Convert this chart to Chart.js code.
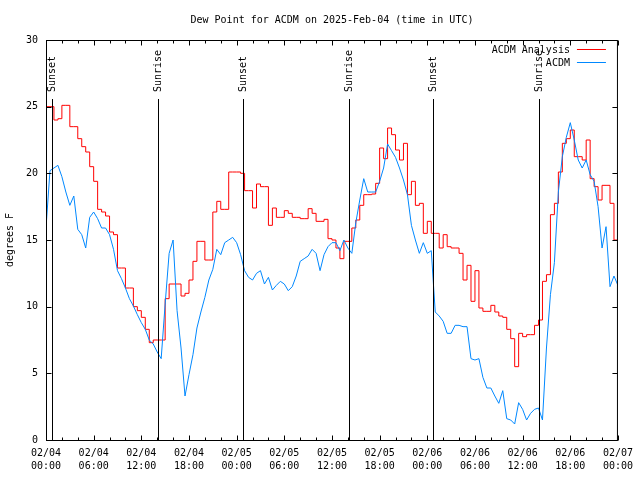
<!DOCTYPE html>
<html>
<head>
<meta charset="utf-8">
<title>Dew Point for ACDM</title>
<script src="https://cdn.jsdelivr.net/npm/chart.js@4.4.1/dist/chart.umd.min.js"></script>
<style>
  html, body { margin: 0; padding: 0; background: #fff; }
  canvas { display: block; }
</style>
</head>
<body>
<canvas id="chart" width="640" height="480"></canvas>
<script>
'use strict';

// hours since 02/04 00:00 UTC, one reading every half hour
var hours = [
  0, 0.5, 1, 1.5, 2, 2.5, 3, 3.5, 4, 4.5, 5, 5.5, 6, 6.5, 7, 7.5, 8, 8.5, 9, 9.5, 10, 10.5, 11, 11.5,
  12, 12.5, 13, 13.5, 14, 14.5, 15, 15.5, 16, 16.5, 17, 17.5, 18, 18.5, 19, 19.5, 20, 20.5, 21, 21.5, 22, 22.5, 23, 23.5,
  24, 24.5, 25, 25.5, 26, 26.5, 27, 27.5, 28, 28.5, 29, 29.5, 30, 30.5, 31, 31.5, 32, 32.5, 33, 33.5, 34, 34.5, 35, 35.5,
  36, 36.5, 37, 37.5, 38, 38.5, 39, 39.5, 40, 40.5, 41, 41.5, 42, 42.5, 43, 43.5, 44, 44.5, 45, 45.5, 46, 46.5, 47, 47.5,
  48, 48.5, 49, 49.5, 50, 50.5, 51, 51.5, 52, 52.5, 53, 53.5, 54, 54.5, 55, 55.5, 56, 56.5, 57, 57.5, 58, 58.5, 59, 59.5,
  60, 60.5, 61, 61.5, 62, 62.5, 63, 63.5, 64, 64.5, 65, 65.5, 66, 66.5, 67, 67.5, 68, 68.5, 69, 69.5, 70, 70.5, 71, 71.5,
  72
];

var analysis = [
  25.0, 25.0, 24.0, 24.1, 25.1, 25.1, 23.5, 23.5, 22.6, 22.0, 21.6, 20.5, 19.4, 17.3, 17.1, 16.8, 15.6, 15.4, 12.9, 12.9, 11.4, 11.4, 10.0, 9.7,
  9.2, 8.3, 7.3, 7.5, 7.5, 7.5, 10.6, 11.7, 11.7, 11.7, 10.8, 11.0, 12.0, 13.4, 14.9, 14.9, 13.5, 13.5, 17.1, 17.9, 17.3, 17.3, 20.1, 20.1,
  20.1, 20.0, 18.7, 18.7, 17.4, 19.2, 19.0, 19.0, 16.1, 17.4, 16.7, 16.7, 17.2, 17.0, 16.7, 16.7, 16.6, 16.6, 17.35, 17.0, 16.4, 16.4, 16.55, 15.1,
  15.0, 14.4, 13.6, 14.9, 14.9, 15.9, 16.5, 17.6, 18.4, 18.4, 18.45, 19.25, 21.9, 21.1, 23.4, 22.9, 21.75, 21.0, 22.25, 18.4, 19.4, 17.6, 17.75, 15.5,
  16.4, 15.5, 15.5, 14.4, 15.4, 14.5, 14.4, 14.4, 14.0, 12.0, 13.1, 10.4, 12.7, 9.9, 9.65, 9.65, 10.1, 9.6, 9.3, 9.2, 8.3, 7.6, 5.5, 8.0,
  7.75, 7.9, 7.9, 8.6, 9.0, 11.9, 12.4, 16.9, 17.75, 20.1, 22.25, 22.6, 23.25, 21.25, 21.25, 21.0, 22.5, 19.6, 19.0, 18.0, 19.1, 19.1, 17.75, 15.0,
  14.95
];

var observed = [
  15.9, 20.2, 20.4, 20.6, 19.75, 18.6, 17.6, 18.3, 15.8, 15.4, 14.4, 16.7, 17.1, 16.6, 15.9, 15.9, 15.4, 14.3, 12.7, 12.1, 11.4, 10.6, 10.05, 9.4,
  8.8, 8.3, 7.5, 7.2, 6.6, 6.1, 10.2, 14.0, 15.0, 9.7, 6.9, 3.3, 4.9, 6.4, 8.4, 9.6, 10.7, 12.0, 12.8, 14.3, 13.9, 14.8, 15.0, 15.2,
  14.8, 13.9, 12.7, 12.2, 12.0, 12.5, 12.7, 11.7, 12.2, 11.25, 11.6, 11.9, 11.7, 11.2, 11.5, 12.3, 13.4, 13.6, 13.8, 14.3, 14.0, 12.7, 13.9, 14.5,
  14.8, 14.8, 14.2, 15.0, 14.4, 14.0, 16.3, 18.0, 19.6, 18.6, 18.6, 18.6, 19.4, 20.4, 22.2, 21.7, 21.2, 20.4, 19.5, 18.4, 16.1, 15.0, 14.0, 14.8,
  14.0, 14.2, 9.6, 9.3, 8.9, 8.0, 8.0, 8.6, 8.6, 8.5, 8.5, 6.1, 6.0, 6.1, 4.7, 3.9, 3.9, 3.3, 2.75, 3.7, 1.6, 1.5, 1.2, 2.8,
  2.3, 1.5, 2.0, 2.3, 2.4, 1.5, 6.9, 10.9, 13.3, 18.6, 21.25, 22.7, 23.8, 22.5, 21.0, 20.4, 21.0, 19.9, 19.4, 17.5, 14.4, 16.0, 11.5, 12.3,
  11.6
];

var tickLabels = [
  ['02/04', '00:00'], ['02/04', '06:00'], ['02/04', '12:00'], ['02/04', '18:00'],
  ['02/05', '00:00'], ['02/05', '06:00'], ['02/05', '12:00'], ['02/05', '18:00'],
  ['02/06', '00:00'], ['02/06', '06:00'], ['02/06', '12:00'], ['02/06', '18:00'],
  ['02/07', '00:00']
];

var sunHours = [0.75, 14.1, 24.78, 38.15, 48.78, 62.08];
var sunLabels = ['Sunset', 'Sunrise', 'Sunset', 'Sunrise', 'Sunset', 'Sunrise'];

var titleText = 'Dew Point for ACDM on 2025-Feb-04 (time in UTC)';
var FONT = '"DejaVu Sans Mono", monospace';

var toPoints = function(values){
  return hours.map(function(h, i){ return { x: h, y: values[i] }; });
};

// sunrise / sunset markers with their rotated captions
var sunPlugin = {
  id: 'sunLines',
  afterDatasetsDraw: function(chart){
    var ctx = chart.ctx, xs = chart.scales.x, ys = chart.scales.y;
    var top = chart.chartArea.top + 59;
    ctx.save();
    ctx.strokeStyle = '#000';
    ctx.fillStyle = '#000';
    ctx.lineWidth = 1;
    ctx.font = '10px ' + FONT;
    sunHours.forEach(function(h, i){
      var px = Math.round(xs.getPixelForValue(h)) + 0.5;
      ctx.beginPath();
      ctx.moveTo(px, top);
      ctx.lineTo(px, ys.bottom);
      ctx.stroke();
      ctx.save();
      ctx.translate(px, top - 7);
      ctx.rotate(-Math.PI / 2);
      ctx.textAlign = 'left';
      ctx.textBaseline = 'middle';
      ctx.fillText(sunLabels[i], 0, 0);
      ctx.restore();
    });
    ctx.restore();
  }
};

// gnuplot-like frame, inward ticks, title and key
var framePlugin = {
  id: 'frame',
  afterDraw: function(chart){
    var ctx = chart.ctx, a = chart.chartArea, xs = chart.scales.x, ys = chart.scales.y;
    var l = a.left + 0.5, r = a.right - 0.5, t = a.top + 0.5, b = a.bottom + 0.5;
    ctx.save();
    ctx.strokeStyle = '#000';
    ctx.lineWidth = 1;
    ctx.strokeRect(l, t, r - l, b - t);

    ctx.beginPath();
    for (var h = 0; h <= 72; h += 2) {
      var px = Math.round(xs.getPixelForValue(h)) + 0.5;
      var len = (h % 6 === 0) ? 5 : 3;
      ctx.moveTo(px, b); ctx.lineTo(px, b - len);
      ctx.moveTo(px, t); ctx.lineTo(px, t + len);
    }
    for (var v = 5; v < 30; v += 5) {
      var py = Math.round(ys.getPixelForValue(v)) + 0.5;
      ctx.moveTo(l, py); ctx.lineTo(l + 5, py);
      ctx.moveTo(r, py); ctx.lineTo(r - 5, py);
    }
    ctx.stroke();

    ctx.fillStyle = '#000';
    ctx.font = '10px ' + FONT;
    ctx.textAlign = 'center';
    ctx.textBaseline = 'middle';
    ctx.fillText(titleText, (a.left + a.right) / 2, 20);

    var keys = [
      { label: 'ACDM Analysis', color: '#ff0000' },
      { label: 'ACDM', color: '#0088ff' }
    ];
    ctx.textAlign = 'right';
    keys.forEach(function(k, i){
      var ky = a.top + 9 + i * 13;
      ctx.fillStyle = '#000';
      ctx.fillText(k.label, a.right - 48, ky + 1);
      ctx.strokeStyle = k.color;
      ctx.beginPath();
      ctx.moveTo(a.right - 41, Math.round(ky) + 0.5);
      ctx.lineTo(a.right - 12, Math.round(ky) + 0.5);
      ctx.stroke();
    });
    ctx.restore();
  }
};

new Chart(document.getElementById('chart'), {
  type: 'line',
  data: {
    datasets: [
      { label: 'ACDM', data: toPoints(observed), borderColor: '#0088ff', borderWidth: 1,
        pointRadius: 0, tension: 0, fill: false, order: 0 },
      { label: 'ACDM Analysis', data: toPoints(analysis), borderColor: '#ff0000', borderWidth: 1,
        pointRadius: 0, stepped: true, fill: false, order: 1 }
    ]
  },
  options: {
    responsive: false,
    animation: false,
    devicePixelRatio: 1,
    layout: { padding: { top: 40, right: 18, left: 0, bottom: 0 } },
    plugins: { legend: { display: false }, title: { display: false }, tooltip: { enabled: false } },
    scales: {
      x: {
        type: 'linear', min: 0, max: 72,
        grid: { display: false, drawTicks: false, tickLength: 0 }, border: { display: false },
        ticks: {
          stepSize: 6, autoSkip: false, maxRotation: 0, padding: 7, color: '#000',
          font: { family: FONT, size: 10, lineHeight: 1.3 },
          callback: function(v){ return tickLabels[v / 6]; }
        },
        afterFit: function(s){ s.height = 40; }
      },
      y: {
        min: 0, max: 30,
        grid: { display: false, drawTicks: false, tickLength: 0 }, border: { display: false },
        ticks: { stepSize: 5, padding: 8, color: '#000', font: { family: FONT, size: 10 } },
        title: { display: true, text: 'degrees F', color: '#000', font: { family: FONT, size: 10 },
                 padding: { top: 4, bottom: 0 } },
        afterFit: function(s){ s.width = 46; }
      }
    }
  },
  plugins: [sunPlugin, framePlugin]
});
</script>
</body>
</html>
